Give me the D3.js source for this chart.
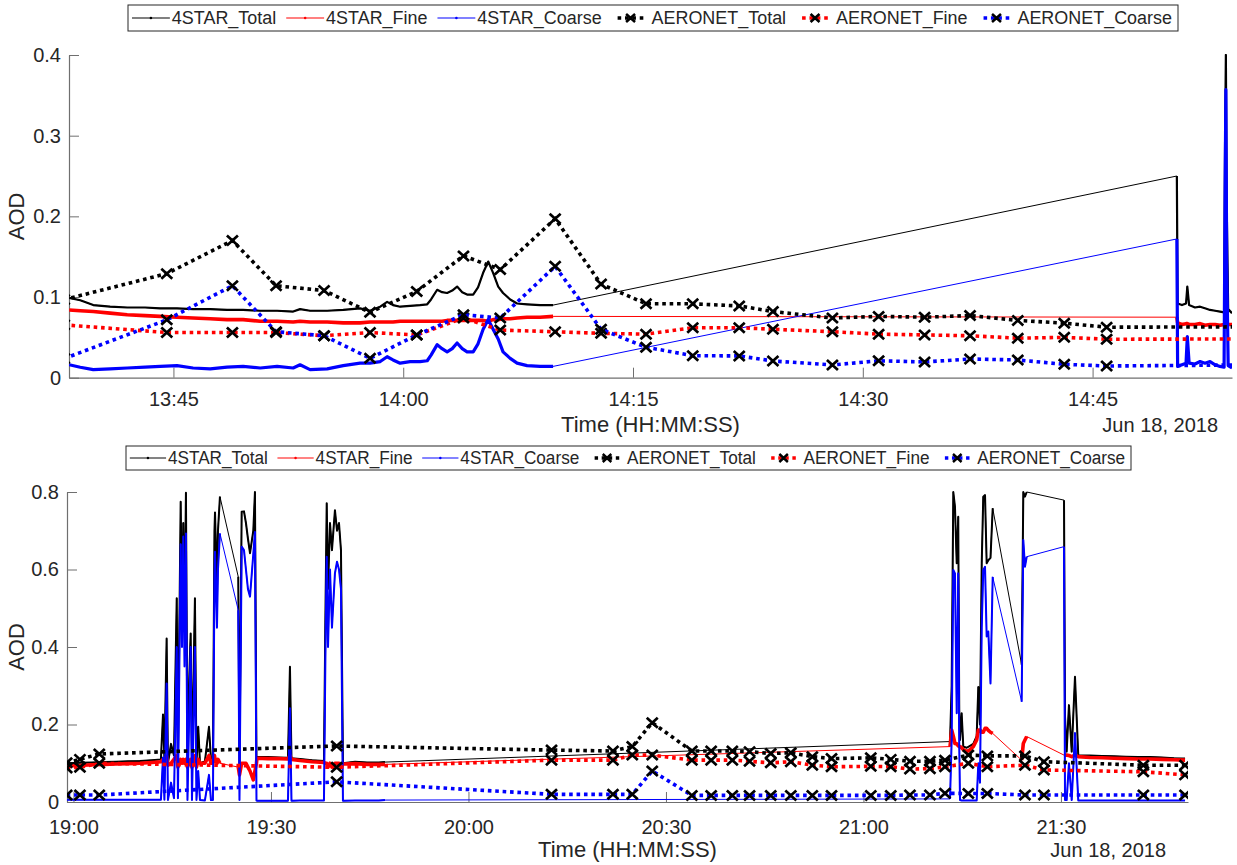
<!DOCTYPE html>
<html><head><meta charset="utf-8">
<script src="https://cdn.jsdelivr.net/npm/d3@7"></script>
<style>
body{margin:0;background:#fff;}
text{font-family:"Liberation Sans",Arial,Helvetica,sans-serif;fill:#262626;}
</style>
</head><body>
<svg id="chart" width="1237" height="865"></svg>
<script>
// ---------------- DATA ----------------
const seriesNames = ["4STAR_Total","4STAR_Fine","4STAR_Coarse","AERONET_Total","AERONET_Fine","AERONET_Coarse"];
const seriesColors = ["#000000","#ff0000","#0000ff","#000000","#ff0000","#0000ff"];
const dateLabel = "Jun 18, 2018";
const xAxisTitle = "Time (HH:MM:SS)";
const yAxisTitle = "AOD";

// Top panel
const topXTicks = ["13:45","14:00","14:15","14:30","14:45"];
const topYTicks = [0,0.1,0.2,0.3,0.4];
const topYTickLabels = ["0","0.1","0.2","0.3","0.4"];
const topXDomain = ["13:38:11","14:54:06"];
const top4starTime = ["13:38:12","13:38:55","13:39:46","13:40:52","13:41:59","13:43:09","13:44:08","13:45:14","13:46:17","13:47:24",
"13:48:30","13:49:33","13:50:40","13:51:46","13:52:49","13:53:16","13:53:55","13:55:02","13:56:05","13:57:11",
"13:57:50","13:58:30","13:58:57","13:59:20","13:59:48","14:00:27","14:01:06","14:01:34","14:01:49","14:02:13",
"14:02:32","14:02:52","14:03:12","14:03:31","14:03:51","14:04:10","14:04:34","14:04:53","14:05:13","14:05:33",
"14:05:52","14:06:12","14:06:31","14:06:59","14:07:26","14:08:05","14:08:56","14:09:47",
"14:50:30","14:50:33","14:50:50","14:51:06","14:51:11","14:51:18","14:51:41","14:52:01","14:52:20","14:52:40",
"14:53:00","14:53:19","14:53:35","14:53:39","14:53:42","14:53:45","14:53:51","14:54:06"];
const top4starTotal = [.099,.096,.090,.088,.087,.087,.086,.086,.085,.085,
.084,.084,.083,.083,.082,.085,.083,.083,.084,.086,
.083,.088,.094,.090,.088,.089,.090,.091,.097,.109,
.106,.105,.108,.113,.106,.103,.103,.112,.130,.144,
.130,.113,.105,.097,.092,.091,.090,.090,
.250,.092,.090,.092,.113,.090,.087,.088,.086,.084,.083,.082,.081,.300,.400,.220,.085,.080];
const top4starFine = [.084,.083,.082,.080,.078,.077,.076,.075,.074,.073,
.072,.072,.070,.070,.069,.070,.069,.069,.068,.068,
.069,.069,.069,.069,.070,.070,.070,.070,.070,.070,
.070,.071,.071,.071,.071,.071,.071,.071,.071,.070,
.072,.072,.073,.073,.074,.075,.075,.076,
.075,.068,.066,.067,.067,.066,.066,.067,.065,.066,.066,.065,.066,.068,.068,.067,.066,.066];
const top4starCoarse = [.016,.013,.010,.011,.012,.013,.014,.015,.012,.011,
.013,.014,.012,.014,.012,.016,.010,.011,.015,.018,
.018,.020,.026,.022,.018,.020,.020,.021,.028,.041,
.036,.032,.036,.043,.036,.032,.032,.042,.060,.072,
.060,.048,.032,.024,.018,.015,.014,.014,
.172,.014,.016,.018,.051,.018,.017,.020,.018,.020,.016,.014,.013,.230,.357,.150,.015,.012];
const topAeroTime = ["13:37:52","13:44:34","13:48:51","13:51:42","13:54:50","13:57:50","14:00:53","14:03:56","14:06:20","14:09:55",
"14:12:55","14:15:51","14:18:54","14:21:56","14:24:08","14:28:01","14:31:02","14:34:02","14:37:00","14:40:07",
"14:43:09","14:45:55","14:54:57"];
const topAeroTotal = [.0968,.129,.170,.114,.108,.081,.107,.151,.134,.197,.116,.0916,.0916,.089,.082,.074,.076,.075,.077,.071,.0676,.0626,.063];
const topAeroFine = [.0655,.056,.056,.056,.052,.056,.053,.074,.059,.057,.055,.054,.062,.062,.060,.057,.054,.053,.052,.049,.050,.0477,.048];
const topAeroCoarse = [.0237,.0717,.114,.057,.052,.024,.053,.078,.074,.138,.060,.0378,.0273,.027,.0207,.0158,.021,.0195,.0232,.022,.0166,.0145,.0158];

// Bottom panel
const botXTicks = ["19:00","19:30","20:00","20:30","21:00","21:30"];
const botYTicks = [0,0.2,0.4,0.6,0.8];
const botYTickLabels = ["0","0.2","0.4","0.6","0.8"];
const botXDomain = ["18:59:01","21:49:18"];
const bot4starTime = ["18:59:01","19:00:59","19:02:49","19:04:38","19:06:27","19:08:17","19:10:06","19:11:55","19:13:17","19:13:36",
"19:13:49","19:14:09","19:14:21","19:14:49","19:15:16","19:15:41","19:15:52","19:16:17","19:16:29","19:16:41",
"19:16:52","19:17:05","19:17:19","19:17:33","19:17:48","19:18:00","19:18:27","19:18:41","19:18:57","19:19:13",
"19:19:58","19:20:35","19:20:53","19:21:11","19:21:25","19:21:30","19:21:48","19:21:57","19:22:15","19:25:02",
"19:25:13","19:25:33","19:25:54","19:26:12","19:26:30","19:26:49","19:27:19","19:27:34","19:27:48","19:27:52",
"19:29:33","19:31:13","19:32:35","19:32:53","19:33:07","19:34:24","19:36:14","19:38:03","19:38:17","19:38:28",
"19:38:40","19:38:58","19:39:16","19:39:43","19:40:02","19:40:20","19:40:38","19:40:56","19:42:46","19:44:35",
"19:46:24","19:47:19","21:13:09","21:13:24","21:13:39","21:13:54","21:14:10","21:14:24","21:14:33","21:14:40",
"21:14:55","21:15:10","21:15:41","21:16:11","21:16:41","21:17:12","21:17:27","21:17:42","21:17:58","21:18:12",
"21:18:28","21:18:43","21:18:58","21:19:18","21:19:38","21:24:02","21:24:17","21:24:32","21:24:48","21:30:28",
"21:30:37","21:30:52","21:31:13","21:31:38","21:32:08","21:32:38","21:34:25","21:36:14","21:38:03","21:39:53",
"21:41:42","21:43:32","21:45:21","21:47:10","21:48:51"];
const bot4starTotal = [.100,.101,.102,.103,.104,.105,.106,.108,.110,.226,
.110,.422,.100,.150,.120,.526,.100,.775,.500,.720,
.450,.798,.100,.300,.435,.100,.526,.100,.194,.100,
.105,.194,.110,.110,.700,.747,.550,.700,.788,.581,
.100,.749,.750,.720,.680,.642,.700,.800,.100,.116,
.116,.115,.114,.349,.113,.111,.108,.106,.500,.771,
.550,.720,.650,.753,.700,.720,.650,.100,.104,.102,
.102,.103,.156,.300,.800,.762,.616,.736,.237,.160,
.229,.143,.140,.145,.150,.170,.297,.200,.616,.788,
.792,.616,.624,.630,.758,.354,.800,.788,.800,.779,
.220,.130,.250,.130,.323,.120,.120,.119,.118,.117,
.116,.116,.115,.113,.112];
const bot4starFine = [.093,.094,.096,.097,.098,.099,.100,.102,.104,.110,
.100,.118,.095,.100,.110,.120,.090,.110,.100,.110,
.100,.110,.090,.100,.110,.090,.120,.090,.110,.100,
.100,.120,.100,.100,.120,.110,.100,.110,.100,.090,
.070,.100,.100,.100,.090,.080,.057,.080,.100,.113,
.112,.112,.111,.120,.110,.107,.104,.102,.100,.100,
.090,.100,.090,.100,.100,.100,.090,.098,.099,.097,
.097,.097,.143,.186,.170,.151,.150,.145,.143,.143,
.140,.135,.130,.135,.143,.160,.186,.186,.180,.180,
.190,.190,.185,.180,.177,.108,.151,.160,.169,.121,
.121,.121,.120,.117,.121,.117,.115,.114,.113,.112,
.111,.111,.110,.109,.108];
const bot4starCoarse = [.006,.006,.006,.006,.006,.006,.006,.006,.006,.115,
.006,.306,.005,.050,.010,.400,.010,.665,.400,.685,
.350,.693,.005,.200,.400,.005,.400,.005,.080,.005,
.004,.070,.005,.005,.580,.646,.450,.600,.693,.495,
.005,.659,.650,.600,.550,.530,.640,.697,.004,.003,
.003,.003,.003,.242,.003,.004,.004,.004,.400,.633,
.400,.600,.450,.590,.620,.600,.550,.003,.004,.004,
.004,.005,.008,.160,.599,.590,.229,.590,.150,.005,
.004,.004,.004,.004,.004,.004,.100,.050,.450,.599,
.607,.427,.440,.306,.581,.259,.676,.607,.633,.659,
.005,.005,.100,.005,.178,.004,.004,.004,.004,.004,
.004,.004,.004,.004,.004];
const botAeroTime = ["18:58:58","19:00:59","19:03:55","19:39:59","20:12:37","20:21:57","20:24:53","20:27:55","20:33:56","20:36:52",
"20:40:05","20:42:42","20:45:55","20:48:58","20:52:14","20:55:09","21:01:07","21:04:09","21:07:04","21:10:06",
"21:12:23","21:15:56","21:18:49","21:24:32","21:27:25","21:42:31","21:48:51"];
const botAeroTotal = [.101,.110,.124,.1445,.134,.1316,.143,.2047,.1316,.1316,.1316,.130,.125,.127,.117,.112,.114,.110,.105,.105,.108,.121,.119,.119,.104,.095,.095];
const botAeroFine = [.088,.0896,.0998,.0896,.108,.108,.121,.121,.108,.108,.108,.105,.101,.104,.095,.091,.092,.091,.085,.086,.091,.0998,.091,.095,.0826,.078,.070];
const botAeroCoarse = [.018,.018,.018,.052,.0198,.0198,.0198,.080,.017,.017,.017,.017,.017,.017,.017,.017,.017,.017,.018,.018,.0224,.022,.022,.018,.018,.018,.018];

// ---------------- DRAWING ----------------
const svg = d3.select("#chart");
function toDate(s){ const p = s.split(":").map(Number); return new Date(2018,5,18,p[0],p[1],p[2]||0); }
const axisColor = "#6f6f6f";

function drawPanel(cfg, idx){
  const g = svg.append("g");
  const x = d3.scaleTime().domain(cfg.xDomain.map(toDate)).range([cfg.left, cfg.right]);
  const y = d3.scaleLinear().domain([0, cfg.yMax]).range([cfg.bottom, cfg.top]);
  const clipId = "clip" + idx;
  svg.append("defs").append("clipPath").attr("id", clipId)
    .append("rect").attr("x", cfg.left).attr("y", cfg.top - 1)
    .attr("width", cfg.right - cfg.left).attr("height", cfg.bottom - cfg.top + 1);

  // axes
  const xa = g.append("g").attr("transform", `translate(0,${cfg.bottom})`)
    .call(d3.axisBottom(x).tickValues(cfg.xTicks.map(toDate)).tickFormat(d3.timeFormat("%H:%M"))
      .tickSizeInner(-10).tickSizeOuter(0).tickPadding(cfg.xPad));
  const ya = g.append("g").attr("transform", `translate(${cfg.left},0)`)
    .call(d3.axisLeft(y).tickValues(cfg.yTicks).tickFormat((d,i)=>cfg.yTickLabels[i])
      .tickSizeInner(-10).tickSizeOuter(0).tickPadding(8));
  [xa, ya].forEach(a => {
    a.select(".domain").attr("stroke", axisColor).attr("stroke-width", 1.2);
    a.selectAll(".tick line").attr("stroke", axisColor).attr("stroke-width", 1);
    a.selectAll(".tick text").attr("font-size", 20).attr("fill", "#262626")
      .style("font-family", '"Liberation Sans",Arial,sans-serif');
  });

  const plot = g.append("g").attr("clip-path", `url(#${clipId})`);
  const line = d3.line().x(d => x(d[0])).y(d => y(d[1]));

  // 4STAR series
  const starVals = [cfg.starTotal, cfg.starFine, cfg.starCoarse];
  starVals.forEach((vals, si) => {
    const pts = cfg.starTime.map((t, i) => [toDate(t), Math.min(vals[i], cfg.yMax)]);
    plot.append("path").attr("d", line(pts)).attr("fill", "none")
      .attr("stroke", seriesColors[si]).attr("stroke-width", 1).attr("stroke-linejoin", "round");
    // dense sampling overlay (segments with short time steps)
    const segs = []; let cur = [pts[0]];
    for (let i = 1; i < pts.length; i++) {
      if ((pts[i][0] - pts[i-1][0]) / 1000 <= cfg.denseGap) cur.push(pts[i]);
      else { if (cur.length > 1) segs.push(cur); cur = [pts[i]]; }
    }
    if (cur.length > 1) segs.push(cur);
    segs.forEach(s => plot.append("path").attr("d", line(s)).attr("fill", "none")
      .attr("stroke", seriesColors[si]).attr("stroke-width", cfg.denseWidth[si])
      .attr("stroke-linejoin", "round"));
  });

  // AERONET series
  const aeroVals = [cfg.aeroTotal, cfg.aeroFine, cfg.aeroCoarse];
  aeroVals.forEach((vals, ai) => {
    const pts = cfg.aeroTime.map((t, i) => [toDate(t), vals[i]]);
    plot.append("path").attr("d", line(pts)).attr("fill", "none")
      .attr("stroke", seriesColors[3 + ai]).attr("stroke-width", 3.6)
      .attr("stroke-dasharray", "3.6,3.8");
    plot.selectAll(null).data(pts).enter().append("path")
      .attr("transform", d => `translate(${x(d[0])},${y(d[1])})`)
      .attr("d", "M-5.5,-5L5.5,5M-5.5,5L5.5,-5")
      .attr("stroke", "#000").attr("stroke-width", 2.7).attr("fill", "none");
  });

  // labels
  g.append("text").attr("x", (cfg.left + cfg.right) / 2).attr("y", cfg.xTitleY)
    .attr("text-anchor", "middle").attr("font-size", 22).text(xAxisTitle);
  g.append("text").attr("x", cfg.dateRight).attr("y", cfg.xTitleY)
    .attr("text-anchor", "end").attr("font-size", 20).text(dateLabel);
  g.append("text").attr("transform", `translate(${cfg.yTitleX},${(cfg.top + cfg.bottom) / 2}) rotate(-90)`)
    .attr("text-anchor", "middle").attr("font-size", 22).text(yAxisTitle);

  // legend
  const lb = cfg.legendBox;
  const lg = svg.append("g");
  lg.append("rect").attr("x", lb.x0).attr("y", lb.y0).attr("width", lb.x1 - lb.x0).attr("height", lb.y1 - lb.y0)
    .attr("fill", "#fff").attr("stroke", "#262626").attr("stroke-width", 1);
  const inner = lg.append("g");
  let cursor = 0;
  const sampleLen = 38;
  seriesNames.forEach((name, i) => {
    cursor += 4;
    if (i < 3) {
      inner.append("line").attr("x1", cursor).attr("x2", cursor + sampleLen).attr("y1", 0).attr("y2", 0)
        .attr("stroke", seriesColors[i]).attr("stroke-width", 1);
      inner.append("circle").attr("cx", cursor + sampleLen / 2).attr("cy", 0).attr("r", 1.3).attr("fill", seriesColors[i]);
    } else {
      inner.append("line").attr("x1", cursor + 6).attr("x2", cursor + sampleLen - 6).attr("y1", 0).attr("y2", 0)
        .attr("stroke", seriesColors[i]).attr("stroke-width", 3.6).attr("stroke-dasharray", "3.6,3.8");
      inner.append("path").attr("transform", `translate(${cursor + sampleLen / 2},0)`)
        .attr("d", "M-4.5,-4L4.5,4M-4.5,4L4.5,-4").attr("stroke", "#000").attr("stroke-width", 2.6);
    }
    cursor += sampleLen + 2;
    const t = inner.append("text").attr("x", cursor).attr("y", 0).attr("dy", "0.35em")
      .attr("font-size", 18).text(name);
    cursor += t.node().getComputedTextLength() + 6;
  });
  const sx = (lb.x1 - lb.x0) / cursor;
  inner.attr("transform", `translate(${lb.x0},${(lb.y0 + lb.y1) / 2}) scale(${sx},1)`);
}

drawPanel({
  left: 69, right: 1232, top: 55, bottom: 377.7, yMax: 0.4,
  xDomain: topXDomain, xTicks: topXTicks, yTicks: topYTicks, yTickLabels: topYTickLabels,
  starTime: top4starTime, starTotal: top4starTotal, starFine: top4starFine, starCoarse: top4starCoarse,
  aeroTime: topAeroTime, aeroTotal: topAeroTotal, aeroFine: topAeroFine, aeroCoarse: topAeroCoarse,
  denseGap: 75, denseWidth: [2.2, 3.6, 3.2], xPad: 14,
  xTitleY: 432, dateRight: 1218, yTitleX: 24,
  legendBox: {x0: 128, x1: 1178, y0: 5, y1: 31}
}, 0);

drawPanel({
  left: 67, right: 1188, top: 492, bottom: 802, yMax: 0.8,
  xDomain: botXDomain, xTicks: botXTicks, yTicks: botYTicks, yTickLabels: botYTickLabels,
  starTime: bot4starTime, starTotal: bot4starTotal, starFine: bot4starFine, starCoarse: bot4starCoarse,
  aeroTime: botAeroTime, aeroTotal: botAeroTotal, aeroFine: botAeroFine, aeroCoarse: botAeroCoarse,
  denseGap: 125, denseWidth: [2, 3.6, 2], xPad: 18,
  xTitleY: 857, dateRight: 1166, yTitleX: 24,
  legendBox: {x0: 126, x1: 1131, y0: 446, y1: 470}
}, 1);
</script>
</body></html>
